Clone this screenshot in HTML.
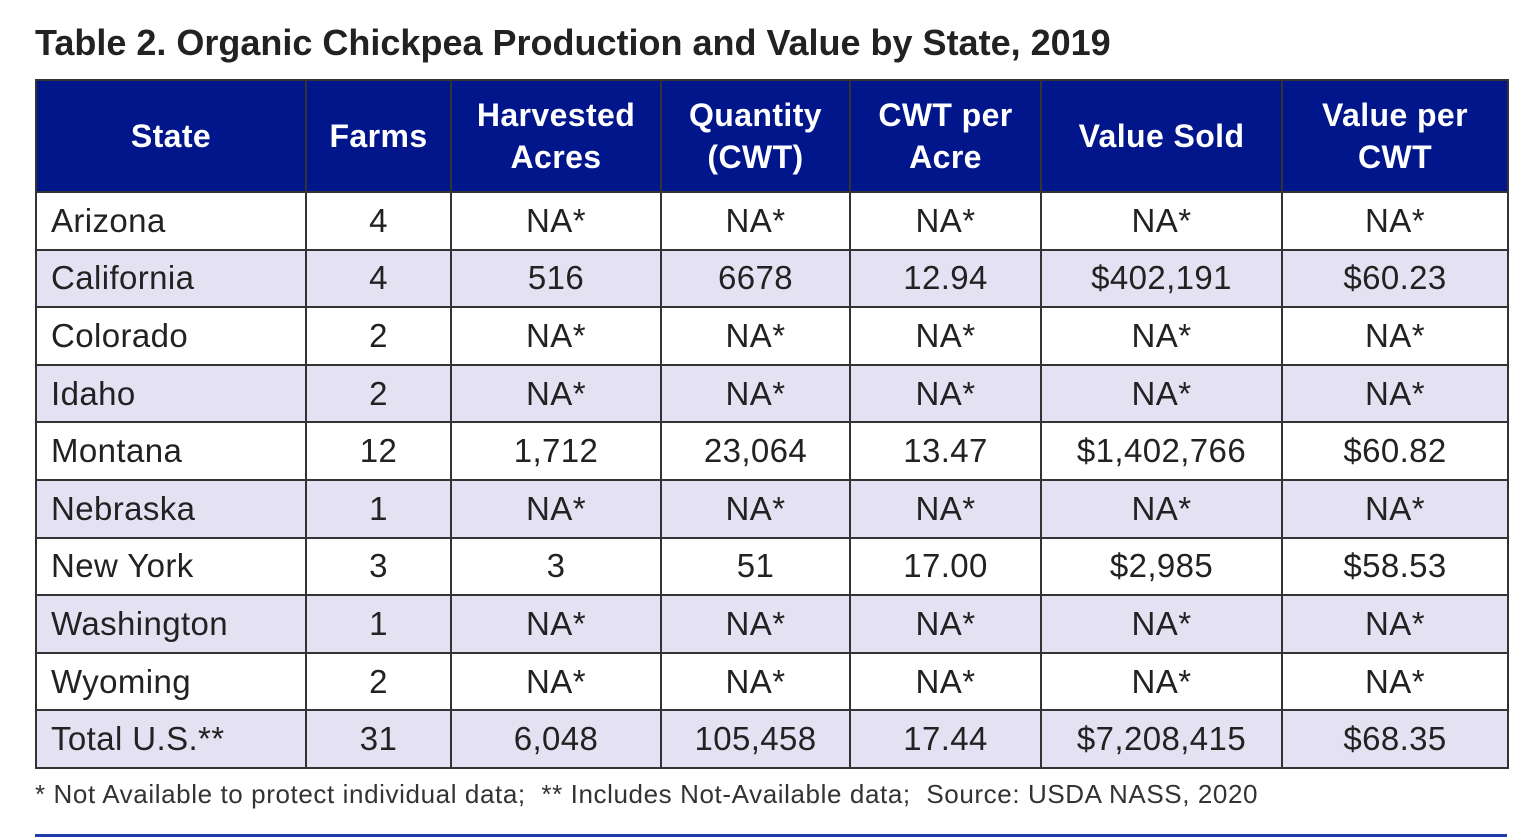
<!DOCTYPE html>
<html><head><style>
body{margin:0;width:1536px;height:838px;background:#fff;position:relative;overflow:hidden;font-family:"Liberation Sans",sans-serif;color:#222}
.t{position:absolute;left:35px;top:22px;font-size:36px;font-weight:bold;color:#222;letter-spacing:0px}
table{position:absolute;left:35px;top:79px;border-collapse:collapse;table-layout:fixed;width:1472px}
td,th{border:2px solid #333;padding:0;text-align:center;font-size:33px;height:55.6px;letter-spacing:0.4px}
th{background:#00168a;color:#fff;font-weight:bold;height:110px;line-height:42px;font-size:32px}
td:first-child{text-align:left;padding-left:14px}
tr.a td{background:#e4e2f2}
.f{position:absolute;left:35px;top:779px;font-size:26px;color:#333;letter-spacing:0.6px}
.l{position:absolute;left:35px;top:834px;width:1472px;height:3px;background:#1f3ca8}
</style></head><body>
<div class="t">Table 2. Organic Chickpea Production and Value by State, 2019</div>
<table>
<colgroup><col style="width:270px"><col style="width:145px"><col style="width:210px"><col style="width:189px"><col style="width:191px"><col style="width:241px"><col style="width:226px"></colgroup>
<tr><th style="text-align:center;padding:0">State</th><th>Farms</th><th>Harvested<br>Acres</th><th>Quantity<br>(CWT)</th><th>CWT per<br>Acre</th><th>Value Sold</th><th>Value per<br>CWT</th></tr>
<tr><td>Arizona</td><td>4</td><td>NA*</td><td>NA*</td><td>NA*</td><td>NA*</td><td>NA*</td></tr>
<tr class="a"><td>California</td><td>4</td><td>516</td><td>6678</td><td>12.94</td><td>$402,191</td><td>$60.23</td></tr>
<tr><td>Colorado</td><td>2</td><td>NA*</td><td>NA*</td><td>NA*</td><td>NA*</td><td>NA*</td></tr>
<tr class="a"><td>Idaho</td><td>2</td><td>NA*</td><td>NA*</td><td>NA*</td><td>NA*</td><td>NA*</td></tr>
<tr><td>Montana</td><td>12</td><td>1,712</td><td>23,064</td><td>13.47</td><td>$1,402,766</td><td>$60.82</td></tr>
<tr class="a"><td>Nebraska</td><td>1</td><td>NA*</td><td>NA*</td><td>NA*</td><td>NA*</td><td>NA*</td></tr>
<tr><td>New York</td><td>3</td><td>3</td><td>51</td><td>17.00</td><td>$2,985</td><td>$58.53</td></tr>
<tr class="a"><td>Washington</td><td>1</td><td>NA*</td><td>NA*</td><td>NA*</td><td>NA*</td><td>NA*</td></tr>
<tr><td>Wyoming</td><td>2</td><td>NA*</td><td>NA*</td><td>NA*</td><td>NA*</td><td>NA*</td></tr>
<tr class="a"><td>Total U.S.**</td><td>31</td><td>6,048</td><td>105,458</td><td>17.44</td><td>$7,208,415</td><td>$68.35</td></tr>
</table>
<div class="f">* Not Available to protect individual data;&nbsp; ** Includes Not-Available data;&nbsp; Source: USDA NASS, 2020</div>
<div class="l"></div>
</body></html>
